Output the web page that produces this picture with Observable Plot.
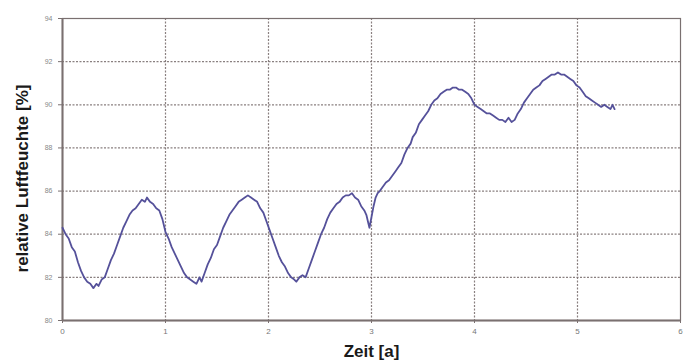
<!DOCTYPE html>
<html><head><meta charset="utf-8">
<script src="https://cdn.jsdelivr.net/npm/d3@7"></script>
<script src="https://cdn.jsdelivr.net/npm/@observablehq/plot@0.6"></script>
<style>
html,body{margin:0;padding:0;background:#fff;}
</style></head>
<body><div id="chart"></div>
<script>
const years = [0.00,0.03,0.06,0.09,0.12,0.15,0.18,0.21,0.24,0.27,0.30,0.33,0.35,0.38,0.41,0.44,0.47,0.50,0.53,0.56,0.59,0.62,0.65,0.68,0.71,0.74,0.77,0.80,0.82,0.85,0.88,0.91,0.94,0.97,1.00,1.03,1.06,1.09,1.12,1.15,1.18,1.21,1.24,1.27,1.30,1.33,1.35,1.38,1.41,1.44,1.47,1.50,1.53,1.56,1.59,1.62,1.65,1.68,1.71,1.74,1.77,1.80,1.83,1.86,1.89,1.92,1.95,1.98,2.01,2.04,2.07,2.10,2.13,2.16,2.19,2.22,2.25,2.27,2.30,2.33,2.36,2.39,2.42,2.45,2.48,2.51,2.54,2.57,2.60,2.63,2.66,2.69,2.72,2.75,2.78,2.81,2.84,2.87,2.90,2.93,2.95,2.97,2.98,3.00,3.02,3.04,3.06,3.08,3.11,3.14,3.17,3.20,3.23,3.26,3.29,3.32,3.35,3.38,3.40,3.43,3.46,3.49,3.52,3.55,3.58,3.61,3.64,3.67,3.70,3.73,3.76,3.79,3.82,3.85,3.88,3.91,3.94,3.97,4.00,4.03,4.06,4.09,4.12,4.15,4.18,4.21,4.24,4.27,4.30,4.33,4.36,4.39,4.42,4.45,4.48,4.51,4.54,4.57,4.60,4.63,4.66,4.69,4.72,4.75,4.78,4.81,4.84,4.87,4.90,4.93,4.96,4.99,5.02,5.05,5.08,5.11,5.14,5.17,5.20,5.23,5.26,5.29,5.32,5.34,5.36];
const humidity = [84.3,84.0,83.8,83.4,83.2,82.7,82.3,82.0,81.8,81.7,81.5,81.7,81.6,81.9,82.0,82.4,82.8,83.1,83.5,83.9,84.3,84.6,84.9,85.1,85.2,85.4,85.6,85.5,85.7,85.5,85.4,85.2,85.1,84.7,84.1,83.8,83.4,83.1,82.8,82.5,82.2,82.0,81.9,81.8,81.7,82.0,81.8,82.2,82.6,82.9,83.3,83.5,83.9,84.3,84.6,84.9,85.1,85.3,85.5,85.6,85.7,85.8,85.7,85.6,85.5,85.2,85.0,84.6,84.2,83.8,83.4,83.0,82.7,82.5,82.2,82.0,81.9,81.8,82.0,82.1,82.0,82.4,82.8,83.2,83.6,84.0,84.3,84.7,85.0,85.2,85.4,85.5,85.7,85.8,85.8,85.9,85.7,85.6,85.3,85.1,84.9,84.5,84.3,84.8,85.3,85.7,85.9,86.0,86.2,86.4,86.5,86.7,86.9,87.1,87.3,87.7,88.0,88.2,88.5,88.7,89.1,89.3,89.5,89.7,90.0,90.2,90.3,90.5,90.6,90.7,90.7,90.8,90.8,90.7,90.7,90.6,90.5,90.3,90.0,89.9,89.8,89.7,89.6,89.6,89.5,89.4,89.3,89.3,89.2,89.4,89.2,89.3,89.6,89.8,90.1,90.3,90.5,90.7,90.8,90.9,91.1,91.2,91.3,91.4,91.4,91.5,91.4,91.4,91.3,91.2,91.1,90.9,90.8,90.6,90.4,90.3,90.2,90.1,90.0,89.9,90.0,89.9,89.8,90.0,89.8];
const xTicks = [0,1,2,3,4,5,6];
const yTicks = [80,82,84,86,88,90,92,94];
const xLabel = "Zeit [a]";
const yLabel = "relative Luftfeuchte [%]";

const data = years.map((t,i)=>({t, h: humidity[i]}));
const gridColor = "#7d7272";
const axisColor = "#7a7070";

const chart = Plot.plot({
  width: 685, height: 362,
  marginLeft: 62, marginRight: 5, marginTop: 18, marginBottom: 42,
  style: {fontFamily: "Liberation Sans, Arial, sans-serif", background: "#fff"},
  x: {domain: [0,6], ticks: xTicks},
  y: {domain: [80,94], ticks: yTicks},
  marks: [
    Plot.gridX(xTicks.filter(d=>d>0&&d<6), {stroke: gridColor, strokeOpacity: 0.9, strokeDasharray: "2,1.5", strokeWidth: 1.2}),
    Plot.gridY(yTicks.filter(d=>d>80&&d<94), {stroke: gridColor, strokeOpacity: 0.9, strokeDasharray: "2,1.5", strokeWidth: 1.2}),
    Plot.frame({stroke: axisColor, strokeWidth: 1.2}),
    Plot.ruleX([0], {stroke: axisColor, strokeWidth: 2}),
    Plot.ruleY([80], {stroke: axisColor, strokeWidth: 2}),
    Plot.axisX({ticks: xTicks, tickFormat: d=>String(d), tickSize: 3, tickPadding: 5, fontSize: 8, fill: "#777", stroke: axisColor, label: null}),
    Plot.axisY({ticks: yTicks, tickFormat: d=>String(d), tickSize: 4, tickPadding: 6, fontSize: 7, fill: "#888", stroke: axisColor, label: null}),
    Plot.line(data, {x: "t", y: "h", stroke: "#55519a", strokeWidth: 1.8, strokeLinejoin: "round"}),
    Plot.text([xLabel], {frameAnchor: "bottom", dy: 36, fontSize: 17, fontWeight: "bold", fill: "#1a1a1a", text: d=>d}),
    Plot.text([yLabel], {frameAnchor: "left", textAnchor: "middle", dx: -40, dy: 9, rotate: -90, fontSize: 17, fontWeight: "bold", fill: "#1a1a1a", text: d=>d})
  ]
});
document.getElementById("chart").appendChild(chart);
</script></body></html>
